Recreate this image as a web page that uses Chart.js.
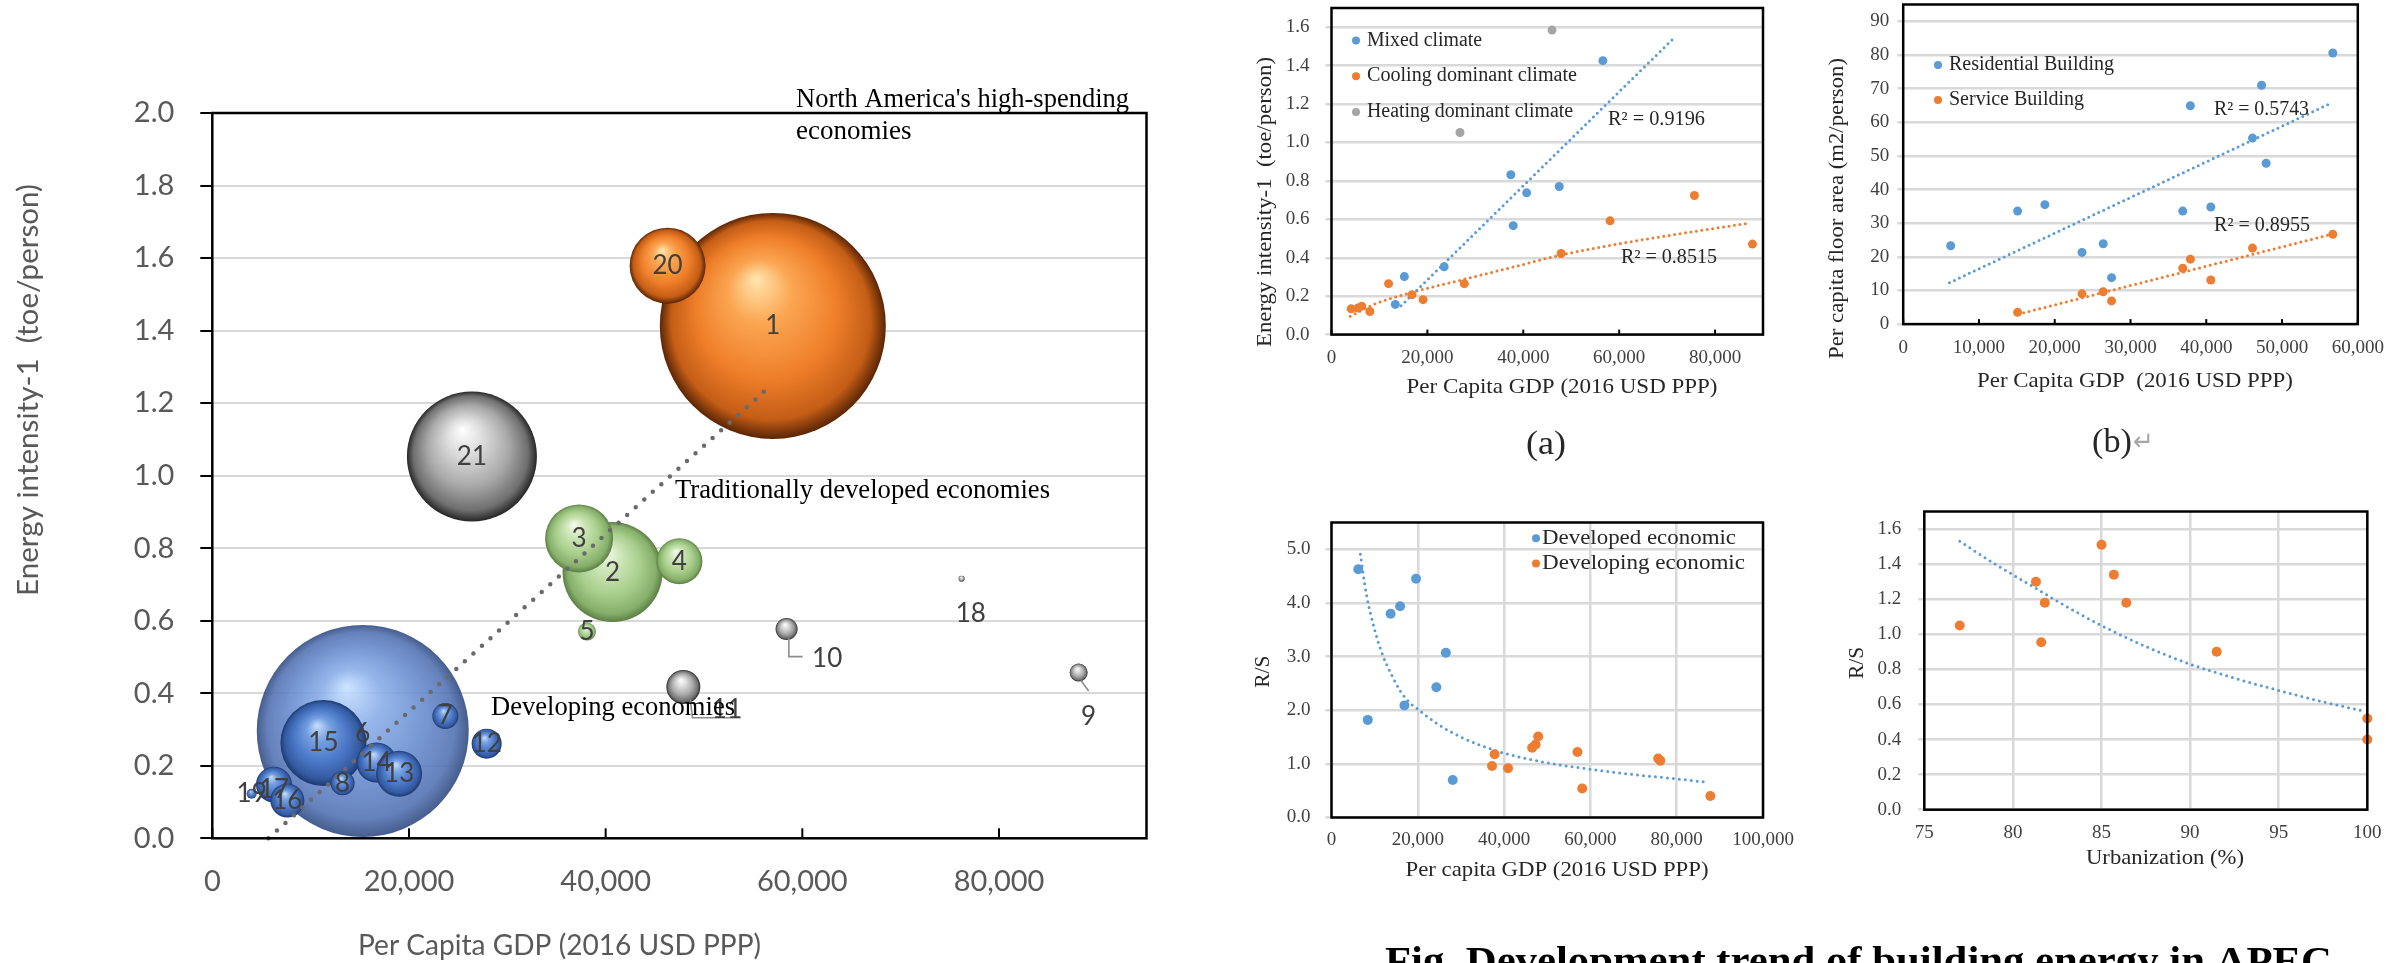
<!DOCTYPE html>
<html>
<head>
<meta charset="utf-8">
<script src="https://cdn.jsdelivr.net/npm/chart.js@4.4.1/dist/chart.umd.min.js"></script>
<style>
html,body{margin:0;padding:0;background:#fff;width:2408px;height:963px;overflow:hidden}
canvas{position:absolute;left:0;top:0}
</style>
</head>
<body>
<canvas id="cMain" width="2408" height="963"></canvas>
<canvas id="cA" width="2408" height="963"></canvas>
<canvas id="cB" width="2408" height="963"></canvas>
<canvas id="cC" width="2408" height="963"></canvas>
<canvas id="cD" width="2408" height="963"></canvas>
<script>
// ---------------- DATA ----------------
// Main bubble chart (economy number, per capita GDP, energy intensity, bubble size, group)
const economyIds     = [1, 6, 21, 2, 15, 20, 3, 4, 14, 13, 17, 16, 11, 12, 7, 8, 10, 9, 5, 19, 18];
const economyGdp     = [57000, 15300, 26400, 40700, 11300, 46300, 37300, 47500, 16700, 19000, 6270, 7630, 47900, 27900, 23700, 13250, 58400, 88100, 38100, 4000, 76200];
const economyEnergy  = [1.413, 0.296, 1.053, 0.734, 0.263, 1.579, 0.827, 0.764, 0.209, 0.178, 0.148, 0.104, 0.417, 0.261, 0.337, 0.152, 0.577, 0.457, 0.570, 0.123, 0.716];
const economySize    = [113, 106, 65, 50, 43, 38, 34, 23, 20, 23, 18, 17, 17, 15, 13, 12, 11, 9, 9, 5, 3];
const economyGroup   = ['high-spending', 'developing', 'other', 'developed', 'developing', 'high-spending', 'developed', 'developed', 'developing', 'developing', 'developing', 'developing', 'other', 'developing', 'developing', 'developing', 'other', 'other', 'developed', 'developing', 'other'];
const mainTrendGdp    = [5700, 56650];
const mainTrendEnergy = [0.0, 1.245];
const mainXTicks = [0, 20000, 40000, 60000, 80000];
const mainYTicks = [0, 0.2, 0.4, 0.6, 0.8, 1.0, 1.2, 1.4, 1.6, 1.8, 2.0];

// (a) energy intensity by climate
const aMixedGdp      = [13300, 15200, 23500, 37400, 37900, 40700, 47500, 56600];
const aMixedEnergy   = [0.157, 0.302, 0.353, 0.832, 0.567, 0.738, 0.771, 1.426];
const aCoolingGdp    = [4100, 5500, 6300, 8000, 11900, 16800, 19100, 27700, 47900, 58100, 75700, 87800];
const aCoolingEnergy = [0.134, 0.138, 0.148, 0.120, 0.265, 0.208, 0.182, 0.265, 0.422, 0.592, 0.724, 0.471];
const aHeatingGdp    = [26800, 46000];
const aHeatingEnergy = [1.052, 1.585];
const aMixedTrendGdp      = [14500, 71800];
const aMixedTrendEnergy   = [0.15, 1.553];
const aCoolingTrendGdp    = [3900, 9100, 16500, 27700, 38900, 47800, 57500, 72400, 87300];
const aCoolingTrendEnergy = [0.096, 0.160, 0.218, 0.288, 0.358, 0.414, 0.462, 0.524, 0.581];
const aXTicks = [0, 20000, 40000, 60000, 80000];
const aYTicks = [0, 0.2, 0.4, 0.6, 0.8, 1.0, 1.2, 1.4, 1.6];

// (b) per capita floor area
const bResGdp  = [6270, 15100, 18700, 23600, 26400, 27500, 36900, 37900, 40600, 46100, 47300, 47900, 56700];
const bResArea = [23.3, 33.6, 35.5, 21.3, 23.9, 13.8, 33.6, 64.9, 34.8, 55.3, 71.0, 47.8, 80.6];
const bSerGdp  = [15100, 23600, 26400, 27500, 36900, 37900, 40600, 46100, 56700];
const bSerArea = [3.5, 9.0, 9.6, 6.9, 16.6, 19.3, 13.1, 22.6, 26.7];
const bResTrendGdp  = [6100, 56400];
const bResTrendArea = [12.3, 65.6];
const bSerTrendGdp  = [15200, 56700];
const bSerTrendArea = [2.95, 26.8];
const bXTicks = [0, 10000, 20000, 30000, 40000, 50000, 60000];
const bYTicks = [0, 10, 20, 30, 40, 50, 60, 70, 80, 90];

// (c) R/S vs per capita GDP
const cDevelopedGdp  = [6200, 8400, 13700, 15900, 16900, 19600, 24300, 26500, 28100];
const cDevelopedRS   = [4.63, 1.82, 3.80, 3.94, 2.09, 4.45, 2.43, 3.07, 0.70];
const cDevelopingGdp = [37200, 37800, 40900, 46500, 47300, 47900, 57000, 58100, 75700, 76200, 87800];
const cDevelopingRS  = [0.96, 1.18, 0.92, 1.30, 1.36, 1.51, 1.22, 0.54, 1.10, 1.06, 0.40];
const cTrendGdp = [6700, 8000, 10000, 12000, 14000, 16000, 18000, 20000, 25000, 30000, 35000, 40000, 50000, 60000, 70000, 80000, 86600];
const cTrendRS  = [4.91, 4.20, 3.50, 3.00, 2.65, 2.35, 2.15, 2.02, 1.72, 1.50, 1.33, 1.20, 1.02, 0.90, 0.80, 0.72, 0.66];
const cXTicks = [0, 20000, 40000, 60000, 80000, 100000];
const cYTicks = [0, 1, 2, 3, 4, 5];

// (d) R/S vs urbanization
const dUrban = [77.0, 81.3, 81.6, 81.8, 85.0, 85.7, 86.4, 91.5, 100, 100];
const dRS    = [1.05, 1.30, 0.955, 1.18, 1.51, 1.34, 1.18, 0.90, 0.52, 0.40];
const dTrendUrban = [77.0, 79.0, 81.0, 83.0, 85.0, 87.5, 90.0, 92.5, 95.0, 97.5, 99.9];
const dTrendRS    = [1.53, 1.40, 1.28, 1.16, 1.05, 0.93, 0.83, 0.75, 0.68, 0.615, 0.56];
const dXTicks = [75, 80, 85, 90, 95, 100];
const dYTicks = [0, 0.2, 0.4, 0.6, 0.8, 1.0, 1.2, 1.4, 1.6];

// ---------------- STYLE / HELPERS ----------------
const W = 2408, H = 963;
const SERIF = "'Liberation Serif', 'Times New Roman', serif";
const SANS = "Lato, 'Open Sans', sans-serif";
const BLUE = '#5B9BD5', ORANGE = '#ED7D31', GREY = '#A5A5A5';
const PANEL_TEXT = '#262626';

function pts(xs, ys) { return xs.map((x, i) => ({ x: x, y: ys[i] })); }
function fmtThousands(v) { return v === 0 ? '0' : Number(v).toLocaleString('en-US'); }

function drawText(ctx, text, x, y, o) {
  ctx.save();
  ctx.font = (o.weight || 'normal') + ' ' + o.size + 'px ' + o.family;
  ctx.fillStyle = o.color || '#000';
  ctx.textBaseline = o.baseline || 'middle';
  ctx.textAlign = 'left';
  const mw = ctx.measureText(text).width;
  const sx = o.width ? o.width / mw : 1;
  ctx.translate(x, y);
  if (o.rotate) ctx.rotate(o.rotate);
  ctx.scale(sx, 1);
  const dx = o.align === 'center' ? -mw / 2 : (o.align === 'right' ? -mw : 0);
  ctx.fillText(text, dx, 0);
  ctx.restore();
}
function frame(chart, lw) {
  const a = chart.chartArea, ctx = chart.ctx;
  ctx.save(); ctx.strokeStyle = '#000'; ctx.lineWidth = lw;
  ctx.strokeRect(a.left, a.top, a.right - a.left, a.bottom - a.top);
  ctx.restore();
}
function insideTicks(chart, len, lw) {
  const s = chart.scales.x, a = chart.chartArea, ctx = chart.ctx;
  ctx.save(); ctx.strokeStyle = '#000'; ctx.lineWidth = lw;
  s.ticks.forEach(t => {
    const px = s.getPixelForValue(t.value);
    ctx.beginPath(); ctx.moveTo(px, a.bottom); ctx.lineTo(px, a.bottom - len); ctx.stroke();
  });
  ctx.restore();
}
function legendItem(ctx, x, y, color, text, tx, width) {
  ctx.save(); ctx.fillStyle = color; ctx.beginPath(); ctx.arc(x, y, 4, 0, Math.PI * 2); ctx.fill(); ctx.restore();
  drawText(ctx, text, tx, y, { size: 20, family: SERIF, color: PANEL_TEXT, width: width });
}
function scatterSet(label, xs, ys, color, r) {
  return { label: label, data: pts(xs, ys), backgroundColor: color, borderWidth: 0, pointRadius: r, pointHoverRadius: r, clip: false, order: 1 };
}
function trendSet(label, xs, ys, color, w, gap, curved) {
  return { label: label, data: pts(xs, ys), showLine: true, borderColor: color, borderWidth: w, borderDash: [0, gap],
    borderCapStyle: 'round', pointRadius: 0, pointHoverRadius: 0, fill: false, clip: false, order: 2,
    cubicInterpolationMode: curved ? 'monotone' : 'default' };
}

function makeChart(id, p) {
  const yW = 130, xH = 100;
  return new Chart(document.getElementById(id), {
    type: p.type,
    data: { datasets: p.datasets },
    options: {
      responsive: false, animation: false, devicePixelRatio: 1, events: [],
      layout: { padding: { left: p.area.L - yW, right: W - p.area.R, top: p.area.T, bottom: H - p.area.B - xH } },
      plugins: { legend: { display: false }, tooltip: { enabled: false }, title: { display: false } },
      scales: {
        x: {
          type: 'linear', min: p.x.min, max: p.x.max,
          afterBuildTicks: s => { s.ticks = p.x.ticks.map(v => ({ value: v })); },
          afterFit: s => { s.height = xH; s.paddingLeft = 0; s.paddingRight = 0; },
          grid: { display: !!p.x.grid, drawOnChartArea: !!p.x.grid, drawTicks: false, color: p.gridColor, lineWidth: p.gridWidth },
          border: { display: false },
          ticks: { autoSkip: false, maxRotation: 0, minRotation: 0, padding: p.x.pad, color: p.tickColor, font: p.tickFont, callback: p.x.fmt }
        },
        y: {
          type: 'linear', min: p.y.min, max: p.y.max,
          afterBuildTicks: s => { s.ticks = p.y.ticks.map(v => ({ value: v })); },
          afterFit: s => { s.width = yW; s.paddingTop = 0; s.paddingBottom = 0; },
          grid: { display: true, drawOnChartArea: true, drawTicks: true, tickLength: p.y.tickLen, tickColor: p.y.tickColor, tickWidth: p.y.tickWidth,
                  color: p.gridColor, lineWidth: p.gridWidth },
          border: { display: false },
          ticks: { autoSkip: false, padding: p.y.pad, color: p.tickColor, font: p.tickFont, callback: p.y.fmt }
        }
      }
    },
    plugins: [{ id: 'decor' + id, afterDatasetsDraw(chart) { p.decor(chart, chart.ctx); } }]
  });
}

// ---------------- MAIN BUBBLE CHART ----------------
const spherePalettes = {
  'high-spending': ['#FFE6B0', '#FBA652', '#EF7F2A', '#C45D16', '#5A2505'],
  'other':         ['#FFFFFF', '#DCDCDC', '#A9A9A9', '#6F6F6F', '#262626'],
  'developed':     ['#F6FCF0', '#CDE6B8', '#A8CE8C', '#86AF6B', '#5C7F45'],
  'developing':    ['#C6DEFA', '#749FE2', '#4A77C6', '#345AA0', '#1D3970']
};
const translucentPalette = ['rgba(200,226,255,0.9)', 'rgba(135,172,232,0.87)', 'rgba(100,137,206,0.87)', 'rgba(80,112,178,0.88)', 'rgba(50,76,128,0.9)'];
function sphere(c) {
  const chart = c.chart, raw = c.raw;
  if (!raw || !chart.chartArea) return '#888';
  const cx = chart.scales.x.getPixelForValue(raw.x), cy = chart.scales.y.getPixelForValue(raw.y), r = Math.max(raw.r, 1);
  const i = c.dataIndex;
  const pal = economySize[i] > 100 && economyGroup[i] === 'developing' ? translucentPalette : spherePalettes[economyGroup[i]];
  const g = chart.ctx.createRadialGradient(cx - 0.15 * r, cy - 0.42 * r, 0, cx, cy, r);
  g.addColorStop(0, pal[0]); g.addColorStop(0.28, pal[1]); g.addColorStop(0.62, pal[2]); g.addColorStop(0.88, pal[3]); g.addColorStop(1, pal[4]);
  return g;
}
const labelOffsets = { 6: [0, 3], 17: [0, 5], 10: [40.6, 29.5], 11: [43.6, 22.7], 9: [10, 44.2], 18: [9.2, 35] };
const leaderLines = {
  10: [[2.3, 9.2], [2.3, 27.6], [16.1, 27.6]],
  11: [[6.9, 12.3], [9.2, 30.7], [57.4, 30.7]],
  9:  [[2.3, 8], [10, 18.4]]
};

makeChart('cMain', {
  type: 'bubble',
  area: { L: 212.3, R: 1146.5, T: 71.3, B: 838.3 },
  x: { min: 0, max: 95000, ticks: mainXTicks, grid: false, pad: 26, fmt: v => fmtThousands(v) },
  y: { min: 0, max: 2.0, ticks: mainYTicks, pad: 26, tickLen: 12, tickColor: '#000', tickWidth: 2, fmt: v => v.toFixed(1) },
  gridColor: '#D9D9D9', gridWidth: 2, tickColor: '#595959', tickFont: { family: SANS, size: 29 },
  datasets: [
    { type: 'bubble', label: 'APEC economies', data: economyIds.map((id, i) => ({ x: economyGdp[i], y: economyEnergy[i], r: economySize[i] })),
      backgroundColor: sphere, borderWidth: 0, hoverBorderWidth: 0, clip: false, order: 2 },
    { type: 'line', label: 'Trend', data: pts(mainTrendGdp, mainTrendEnergy), borderColor: '#6A6A6A', borderWidth: 4.5, borderDash: [0, 11.5],
      borderCapStyle: 'round', pointRadius: 0, fill: false, clip: false, order: 1 }
  ],
  decor(chart, ctx) {
    frame(chart, 2.5);
    insideTicks(chart, 10, 2);
    const meta = chart.getDatasetMeta(0);
    meta.data.forEach((el, i) => {
      const id = economyIds[i];
      if (leaderLines[id]) {
        ctx.save(); ctx.strokeStyle = '#8C8C8C'; ctx.lineWidth = 1.6; ctx.beginPath();
        leaderLines[id].forEach((p, k) => { k ? ctx.lineTo(el.x + p[0], el.y + p[1]) : ctx.moveTo(el.x + p[0], el.y + p[1]); });
        ctx.stroke(); ctx.restore();
      }
      const off = labelOffsets[id] || [0, 0];
      drawText(ctx, String(id), el.x + off[0], el.y + off[1], { size: 26, family: SANS, color: '#404040', align: 'center' });
    });
    drawText(ctx, "North America's high-spending", 796, 99.5, { size: 27, family: SERIF, color: '#000', width: 333 });
    drawText(ctx, 'economies', 796, 131.5, { size: 27, family: SERIF, color: '#000' });
    drawText(ctx, 'Traditionally developed economies', 675, 491, { size: 27, family: SERIF, color: '#000', width: 375 });
    drawText(ctx, 'Developing economies', 491, 708, { size: 27, family: SERIF, color: '#000', width: 244 });
    drawText(ctx, 'Energy intensity-1  (toe/person)', 29, 390, { size: 29, family: SANS, color: '#595959', align: 'center', width: 412, rotate: -Math.PI / 2 });
    drawText(ctx, 'Per Capita GDP (2016 USD PPP)', 559.5, 946, { size: 29, family: SANS, color: '#595959', align: 'center', width: 403 });
  }
});

// ---------------- PANEL (a) ----------------
const panelTickFont = { family: SERIF, size: 19 };
makeChart('cA', {
  type: 'scatter',
  area: { L: 1331.5, R: 1763, T: 8, B: 334.6 },
  x: { min: 0, max: 90000, ticks: aXTicks, grid: false, pad: 12, fmt: v => fmtThousands(v) },
  y: { min: 0, max: 1.7, ticks: aYTicks, pad: 16, tickLen: 6, tickColor: '#D9D9D9', tickWidth: 2.5, fmt: v => v.toFixed(1) },
  gridColor: '#D9D9D9', gridWidth: 2.5, tickColor: '#404040', tickFont: panelTickFont,
  datasets: [
    scatterSet('Mixed climate', aMixedGdp, aMixedEnergy, BLUE, 4.5),
    scatterSet('Cooling dominant climate', aCoolingGdp, aCoolingEnergy, ORANGE, 4.5),
    scatterSet('Heating dominant climate', aHeatingGdp, aHeatingEnergy, GREY, 4.5),
    trendSet('Mixed trend', aMixedTrendGdp, aMixedTrendEnergy, BLUE, 3, 5.5, false),
    trendSet('Cooling trend', aCoolingTrendGdp, aCoolingTrendEnergy, ORANGE, 3, 5.5, true)
  ],
  decor(chart, ctx) {
    frame(chart, 2.5);
    insideTicks(chart, 5, 2);
    legendItem(ctx, 1356, 40.5, BLUE, 'Mixed climate', 1367, 115);
    legendItem(ctx, 1356, 76.2, ORANGE, 'Cooling dominant climate', 1367, 210);
    legendItem(ctx, 1356, 111.9, GREY, 'Heating dominant climate', 1367, 206);
    drawText(ctx, 'R² = 0.9196', 1608, 120, { size: 20, family: SERIF, color: PANEL_TEXT, width: 97 });
    drawText(ctx, 'R² = 0.8515', 1621, 258, { size: 20, family: SERIF, color: PANEL_TEXT, width: 96 });
    drawText(ctx, 'Energy intensity-1  (toe/person)', 1266, 202, { size: 20, family: SERIF, color: PANEL_TEXT, align: 'center', width: 290, rotate: -Math.PI / 2 });
    drawText(ctx, 'Per Capita GDP (2016 USD PPP)', 1562, 387, { size: 22, family: SERIF, color: PANEL_TEXT, align: 'center', width: 311 });
    drawText(ctx, '(a)', 1546, 445, { size: 34, family: SERIF, color: PANEL_TEXT, align: 'center', width: 40 });
  }
});

// ---------------- PANEL (b) ----------------
makeChart('cB', {
  type: 'scatter',
  area: { L: 1903.2, R: 2357.8, T: 2.5, B: 324.1 },
  x: { min: 0, max: 60000, ticks: bXTicks, grid: false, pad: 12.5, fmt: v => fmtThousands(v) },
  y: { min: 0, max: 95, ticks: bYTicks, pad: 8, tickLen: 6, tickColor: '#D9D9D9', tickWidth: 2.5, fmt: v => String(v) },
  gridColor: '#D9D9D9', gridWidth: 2.5, tickColor: '#404040', tickFont: panelTickFont,
  datasets: [
    scatterSet('Residential Building', bResGdp, bResArea, BLUE, 4.5),
    scatterSet('Service Building', bSerGdp, bSerArea, ORANGE, 4.5),
    trendSet('Residential trend', bResTrendGdp, bResTrendArea, BLUE, 3, 5.5, false),
    trendSet('Service trend', bSerTrendGdp, bSerTrendArea, ORANGE, 3, 5.5, false)
  ],
  decor(chart, ctx) {
    frame(chart, 2.5);
    insideTicks(chart, 5, 2);
    legendItem(ctx, 1938, 65, BLUE, 'Residential Building', 1949, 165);
    legendItem(ctx, 1938, 100, ORANGE, 'Service Building', 1949, 135);
    drawText(ctx, 'R² = 0.5743', 2214, 110, { size: 20, family: SERIF, color: PANEL_TEXT, width: 95 });
    drawText(ctx, 'R² = 0.8955', 2214, 226, { size: 20, family: SERIF, color: PANEL_TEXT, width: 96 });
    drawText(ctx, 'Per capita floor area (m2/person)', 1837.5, 208.5, { size: 20, family: SERIF, color: PANEL_TEXT, align: 'center', width: 301, rotate: -Math.PI / 2 });
    drawText(ctx, 'Per Capita GDP  (2016 USD PPP)', 2135, 381, { size: 22, family: SERIF, color: PANEL_TEXT, align: 'center', width: 316 });
    drawText(ctx, '(b)', 2092, 443, { size: 34, family: SERIF, color: PANEL_TEXT, width: 40 });
    drawText(ctx, '↵', 2133, 443, { size: 26, family: SERIF, color: '#A6A6A6', width: 21 });
  }
});

// ---------------- PANEL (c) ----------------
makeChart('cC', {
  type: 'scatter',
  area: { L: 1331.5, R: 1763, T: 522.5, B: 817.5 },
  x: { min: 0, max: 100000, ticks: cXTicks, grid: true, pad: 11, fmt: v => fmtThousands(v) },
  y: { min: 0, max: 5.5, ticks: cYTicks, pad: 15, tickLen: 6, tickColor: '#D9D9D9', tickWidth: 2.5, fmt: v => v.toFixed(1) },
  gridColor: '#D9D9D9', gridWidth: 2.5, tickColor: '#404040', tickFont: panelTickFont,
  datasets: [
    scatterSet('Developed economic', cDevelopedGdp, cDevelopedRS, BLUE, 5),
    scatterSet('Developing economic', cDevelopingGdp, cDevelopingRS, ORANGE, 5),
    trendSet('R/S trend', cTrendGdp, cTrendRS, BLUE, 3, 6, true)
  ],
  decor(chart, ctx) {
    frame(chart, 2.5);
    legendItem(ctx, 1536, 538.3, BLUE, 'Developed economic', 1542, 194);
    legendItem(ctx, 1536, 563.5, ORANGE, 'Developing economic', 1542, 203);
    drawText(ctx, 'R/S', 1263.6, 671.7, { size: 22, family: SERIF, color: PANEL_TEXT, align: 'center', width: 32, rotate: -Math.PI / 2 });
    drawText(ctx, 'Per capita GDP (2016 USD PPP)', 1557, 870, { size: 22, family: SERIF, color: PANEL_TEXT, align: 'center', width: 303 });
    drawText(ctx, 'Fig. Development trend of building energy in APEC', 1385, 974, { size: 40, weight: 'bold', family: SERIF, color: '#000', baseline: 'alphabetic', width: 947 });
  }
});

// ---------------- PANEL (d) ----------------
makeChart('cD', {
  type: 'scatter',
  area: { L: 1924.3, R: 2367.3, T: 511.5, B: 809.7 },
  x: { min: 75, max: 100, ticks: dXTicks, grid: true, pad: 12, fmt: v => String(v) },
  y: { min: 0, max: 1.7, ticks: dYTicks, pad: 17, tickLen: 6, tickColor: '#D9D9D9', tickWidth: 2.5, fmt: v => v.toFixed(1) },
  gridColor: '#D9D9D9', gridWidth: 2.5, tickColor: '#404040', tickFont: panelTickFont,
  datasets: [
    scatterSet('Economies', dUrban, dRS, ORANGE, 5),
    trendSet('R/S trend', dTrendUrban, dTrendRS, BLUE, 3, 6, true)
  ],
  decor(chart, ctx) {
    frame(chart, 2.5);
    drawText(ctx, 'R/S', 1857.5, 663, { size: 22, family: SERIF, color: PANEL_TEXT, align: 'center', width: 32, rotate: -Math.PI / 2 });
    drawText(ctx, 'Urbanization (%)', 2165, 858, { size: 22, family: SERIF, color: PANEL_TEXT, align: 'center', width: 158 });
  }
});
</script>
</body>
</html>
